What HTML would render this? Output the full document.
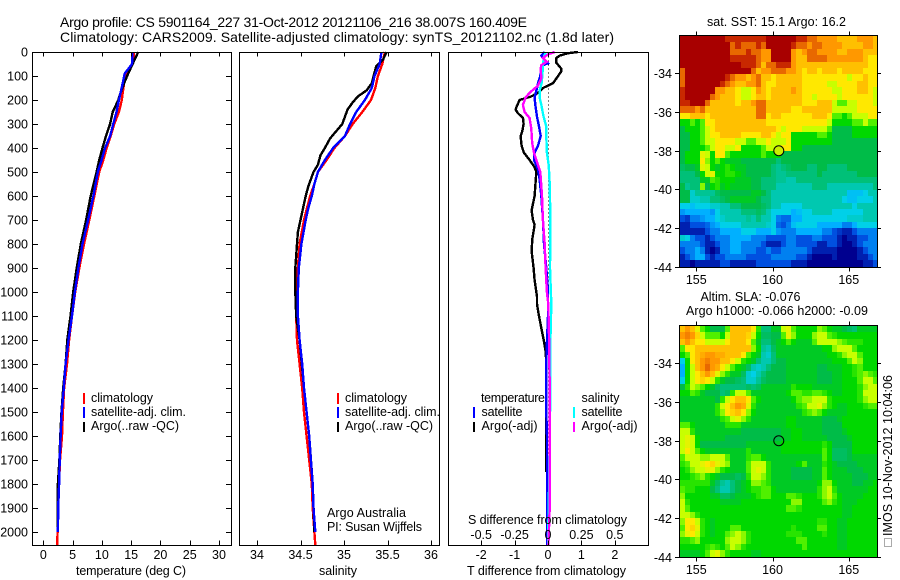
<!DOCTYPE html>
<html>
<head>
<meta charset="utf-8">
<title>Argo profile</title>
<style>
html,body{margin:0;padding:0;background:#fff;width:900px;height:580px;overflow:hidden}
svg{display:block}
text{font-family:"Liberation Sans",sans-serif;font-size:12.5px;fill:#000}
.title{font-size:14px}
.frame{fill:none;stroke:#000;stroke-width:1;shape-rendering:crispEdges}
.tick{stroke:#000;stroke-width:1;shape-rendering:crispEdges}
.series{fill:none;stroke-width:2.4;shape-rendering:crispEdges;stroke-linejoin:miter}
</style>
</head>
<body>
<svg id="chart" width="900" height="580" viewBox="0 0 900 580" xmlns="http://www.w3.org/2000/svg">
<text class="title" x="60" y="27" textLength="467">Argo profile: CS 5901164_227 31-Oct-2012 20121106_216 38.007S 160.409E</text>
<text class="title" x="60" y="42" textLength="554">Climatology: CARS2009. Satellite-adjusted climatology: synTS_20121102.nc (1.8d later)</text>

<g id="map-sst"></g>
<g id="map-sla"></g>
<g id="panel-temp"></g>
<g id="panel-sal"></g>
<g id="panel-diff"></g>

<text x="131" y="575" text-anchor="middle" textLength="110">temperature (deg C)</text>
<text x="338" y="575" text-anchor="middle" textLength="38">salinity</text>
<text x="467" y="575" textLength="159">T difference from climatology</text>
<text x="468" y="524" textLength="159">S difference from climatology</text>

<g>
<rect x="83" y="393" width="2" height="11" fill="#f00"/>
<rect x="83" y="407" width="2" height="11" fill="#00f"/>
<rect x="83" y="422" width="2" height="10" fill="#000"/>
<text x="91" y="402" textLength="62">climatology</text>
<text x="91" y="416" textLength="95">satellite-adj. clim.</text>
<text x="91" y="430" textLength="88">Argo(..raw -QC)</text>
</g>
<g>
<rect x="337" y="393" width="2" height="11" fill="#f00"/>
<rect x="337" y="407" width="2" height="11" fill="#00f"/>
<rect x="337" y="422" width="2" height="10" fill="#000"/>
<text x="345" y="402" textLength="62">climatology</text>
<text x="345" y="416" textLength="95">satellite-adj. clim.</text>
<text x="345" y="430" textLength="88">Argo(..raw -QC)</text>
<text x="327" y="517" textLength="79">Argo Australia</text>
<text x="327" y="531" textLength="95">PI: Susan Wijffels</text>
</g>
<g>
<text x="481" y="402" textLength="64">temperature</text>
<rect x="473" y="407" width="2" height="11" fill="#00f"/>
<rect x="473" y="422" width="2" height="10" fill="#000"/>
<text x="481.5" y="416" textLength="41">satellite</text>
<text x="481.5" y="430" textLength="56">Argo(-adj)</text>
<text x="581.5" y="402" textLength="38">salinity</text>
<rect x="573" y="407" width="2" height="11" fill="#0ff"/>
<rect x="573" y="422" width="2" height="10" fill="#f0f"/>
<text x="581.5" y="416" textLength="41">satellite</text>
<text x="581.5" y="430" textLength="56">Argo(-adj)</text>
</g>

<text x="776.5" y="26" text-anchor="middle" textLength="139">sat. SST: 15.1 Argo: 16.2</text>
<text x="750.5" y="301" text-anchor="middle" textLength="100">Altim. SLA: -0.076</text>
<text x="777" y="315" text-anchor="middle" textLength="182">Argo h1000: -0.066 h2000: -0.09</text>

<rect x="884.5" y="538.5" width="7" height="8" fill="none" stroke="#555" stroke-width="1" stroke-dasharray="1 1"/>
<text transform="translate(892 536) rotate(-90)" x="0" y="0" textLength="161">IMOS 10-Nov-2012 10:04:06</text>
</svg>

<script>
// ---------- profile data ----------
var tempDepths = [0,50,90,130,170,200,250,300,350,400,450,500,600,700,800,900,1000,1100,1200,1300,1400,1500,1600,1700,1800,1900,2000,2055];
var tempClim = [15.5,15.25,14.2,13.8,13.55,13.4,12.9,12.1,11.5,10.8,10.25,9.55,8.7,7.85,6.95,6.15,5.45,4.9,4.4,4.05,3.55,3.35,3.2,2.85,2.7,2.55,2.45,2.35];
var tempSat = [15.25,15.15,13.9,13.55,13.2,12.9,12.5,11.95,11.4,10.55,9.95,9.3,8.55,7.65,6.7,6.0,5.4,4.9,4.3,3.8,3.5,3.15,2.95,2.8,2.7,2.55,2.5];
var tempArgo = [16.2,15.25,14.5,13.8,13.2,12.8,11.85,11.4,10.7,10.1,9.55,9.1,8.1,7.3,6.4,5.7,5.1,4.65,4.1,3.8,3.4,3.1,2.9,2.75,2.5,2.45,2.45];

var salClimDepths = [0,50,100,150,200,250,300,350,400,450,500,550,600,700,800,900,1000,1100,1200,1300,1400,1500,1600,1700,1800,1900,2000,2055];
var salClim = [35.47,35.44,35.39,35.36,35.31,35.21,35.1,35.01,34.89,34.8,34.7,34.66,34.61,34.54,34.49,34.47,34.46,34.45,34.46,34.49,34.52,34.54,34.57,34.6,34.63,34.64,34.66,34.67];
var salSatDepths = [0,50,100,150,200,250,300,350,400,450,500,550,600,650,700,800,900,1000,1100,1200,1300,1400,1500,1600,1700,1800,1900,2000];
var salSat = [35.43,35.41,35.35,35.32,35.24,35.14,35.07,35.01,34.875,34.78,34.7,34.66,34.63,34.59,34.56,34.51,34.48,34.47,34.47,34.49,34.52,34.54,34.57,34.6,34.62,34.64,34.65,34.67];
var salArgoDepths = [0,30,60,100,130,160,185,210,240,270,300,330,360,400,430,470,500,560,600,650,700,750,800,850,900,1000,1100,1200,1400,1600,1800,2000];
var salArgo = [35.49,35.45,35.37,35.34,35.32,35.26,35.16,35.1,35.04,35.01,34.98,34.91,34.84,34.78,34.73,34.7,34.65,34.59,34.56,34.53,34.5,34.47,34.46,34.45,34.44,34.44,34.45,34.49,34.54,34.6,34.64,34.66];

var diffTArgoDepths = [0,5,15,25,45,70,80,110,130,150,170,185,200,225,240,255,275,300,330,350,390,420,450,480,500,600,660,700,720,780,830,900,950,1020,1050,1100,1150,1200,1250,1300,1500,1750];
var diffTArgo = [0.9,0.6,0.35,0.25,0.25,0.4,0.4,0.25,0.15,-0.15,-0.3,-0.5,-0.85,-0.93,-0.97,-0.9,-0.75,-0.73,-0.77,-0.82,-0.79,-0.72,-0.55,-0.4,-0.35,-0.4,-0.49,-0.45,-0.4,-0.47,-0.49,-0.43,-0.4,-0.33,-0.33,-0.27,-0.2,-0.13,-0.07,-0.05,-0.05,-0.05];
var diffTSatDepths = [0,15,47,55,80,110,130,150,190,220,270,310,350,390,420,450,490,530,600,700,800,900,1000,1100,1200,1300,1400,1500,1600,1700,2055];
var diffTSat = [-0.1,-0.2,0,-0.15,-0.2,-0.25,-0.3,-0.33,-0.4,-0.38,-0.33,-0.27,-0.22,-0.3,-0.4,-0.42,-0.3,-0.25,-0.2,-0.15,-0.12,-0.05,0,0,-0.03,-0.05,-0.05,-0.05,-0.03,-0.03,-0.03];
var diffSSatDepths = [0,30,60,100,130,160,190,220,270,310,350,420,470,550,700,900,1050,1200,1400,1600,1800,2055];
var diffSSat = [-0.018,-0.033,-0.038,-0.043,-0.048,-0.063,-0.063,-0.05,-0.033,-0.013,-0.013,-0.008,0.005,0.013,0.018,0.015,0.025,0.018,0.018,0.013,0.008,0];
var diffSArgoDepths = [0,10,25,40,55,70,110,140,170,190,220,250,275,320,380,420,470,500,600,700,800,900,1000,1050,1200,1400,1700,1900,2055];
var diffSArgo = [0.05,0,-0.038,-0.008,-0.05,-0.055,-0.05,-0.075,-0.138,-0.168,-0.188,-0.175,-0.138,-0.125,-0.118,-0.105,-0.075,-0.058,-0.045,-0.038,-0.025,-0.018,-0.008,0.002,0.008,0.013,0.013,0.013,0.003];

// ---------- axis tick data ----------
var depthTicks = [0,100,200,300,400,500,600,700,800,900,1000,1100,1200,1300,1400,1500,1600,1700,1800,1900,2000];
var tempTicks = [0,5,10,15,20,25,30];
var salTicks = [34,34.5,35,35.5,36];
var diffTTicks = [-2,-1,0,1,2];
var diffSTicks = [-0.5,-0.25,0,0.25,0.5];
var lonTicks = [155,160,165];
var latTicks = [-34,-36,-38,-40,-42,-44];
var floatLon = 160.409;
var floatLat = -38.007;

// ---------- map grids (colour-scale value per 1/3 degree cell, north to south) ----------
var sstGrid = [
[17,17,17,17,17,17,17,17,17,16,16,16,16,16,16,16,16,17,17,17,17,17,17,16,16,15,15,14,14,14,14,13,13,13,13,14,14,14,13],
[17,17,17,17,17,17,17,17,17,17,15,16,15,15,15,16,15,17,17,17,17,17,16,15,15,14,15,15,14,14,14,14,13,13,13,13,14,14,13],
[17,17,17,17,17,17,17,17,17,17,15,15,15,16,15,15,14,14,17,17,17,17,14,13,14,15,15,14,14,14,14,13,13,14,14,14,13,13,13],
[17,17,17,17,17,17,17,17,17,17,16,16,16,16,16,15,14,14,17,17,17,17,14,13,13,15,15,15,15,14,14,14,14,14,14,14,13,12,12],
[17,17,17,17,17,17,17,17,17,17,17,17,16,16,16,15,13,15,15,16,16,16,14,13,13,13,13,13,13,13,13,13,13,13,13,13,13,12,12],
[15,17,17,17,17,17,17,17,17,17,17,17,17,17,15,13,14,14,15,15,15,14,14,13,12,13,13,12,13,13,13,12,13,13,13,13,12,12,12],
[15,17,17,17,17,17,17,17,17,16,15,14,14,13,14,15,13,13,12,13,13,13,13,13,12,12,12,12,12,12,12,12,12,11,12,12,13,12,12],
[15,17,17,17,17,17,17,17,16,15,14,13,13,14,14,15,13,12,12,13,13,13,13,13,12,12,12,12,12,11,11,12,12,12,12,13,13,12,12],
[16,17,17,17,17,17,17,14,14,13,13,12,11,11,12,14,13,12,13,13,13,13,14,13,12,12,12,12,12,12,11,11,12,12,12,13,13,12,11],
[16,17,17,17,17,17,15,14,13,13,13,12,11,11,12,13,13,12,13,13,13,13,13,13,12,12,11,12,12,12,12,11,12,12,12,12,12,12,11],
[16,16,17,17,17,15,13,13,13,13,13,12,13,13,14,15,15,13,13,13,13,13,13,13,12,12,12,13,13,13,11,10,10,11,11,12,12,12,11],
[15,15,15,14,15,13,13,13,13,13,13,13,13,13,13,15,15,13,13,13,13,13,12,12,13,13,13,13,13,13,11,11,11,11,11,12,12,12,12],
[12,12,13,13,13,12,13,13,13,13,13,13,13,13,13,15,15,12,13,13,12,12,12,12,12,12,13,13,13,12,10,10,9,10,11,11,11,12,12],
[9,9,10,9,10,12,12,13,13,13,13,13,13,13,13,13,13,12,12,12,12,12,12,12,12,12,12,12,12,11,9,9,9,9,10,10,11,10,10],
[8,9,9,9,10,11,12,13,13,13,13,13,13,13,13,13,13,13,13,12,11,12,12,12,11,11,11,11,11,10,8,8,8,8,9,9,9,9,9],
[8,8,9,9,10,11,12,12,13,13,13,13,12,12,12,12,13,13,12,11,12,12,9,9,9,9,9,10,10,9,8,8,8,8,9,9,9,9,9],
[8,8,9,9,10,11,11,12,12,12,12,11,11,10,10,11,11,12,11,11,11,12,9,9,9,9,9,9,9,9,8,8,8,8,8,8,8,8,8],
[8,8,9,9,9,10,11,12,12,11,11,12,9,9,9,9,10,11,11,11,12,12,9,9,8,8,8,8,8,8,8,8,8,8,8,8,8,8,8],
[8,9,9,9,11.5,11,9,12,12,10,9,9,9,9,9,9,10,9,9,9,8,8,8,8,8,8,8,8,8,8,8,8,8,8,8,8,8,8,8],
[8,9,9,9,12,10.5,9,10,9,8.5,8.5,8.5,8,8,8,8,8,8,8,7,8,8,8,8,8,8,8,8,8,8,8,8,8,8,8,8,8,8,8],
[7.5,8,8,8.5,11.5,11,9,8.5,9,9.5,9,8.5,8.5,8,8,8,8,8,7,6.5,7,7.5,8,8,8,7,7,8,8,7,7,7,7,8,8,8,8,8,8],
[7,7,7,8,9,11,11.5,9,9,9.5,9.5,9,8.5,8,8,8,8,8,7,6.5,6.5,7,7,7,7,7,7,8,7,7,7,7,7,7,7,8,8,8,8],
[7,7,7,7,8.5,8.5,10,9.5,9,9,9,8.5,8.5,8.5,8,8,7,7,7,6.5,6.5,6,6,7,7,7,7,7,7,7,7,7,7,7,7,7,7,7,7],
[8,6.5,7,7,10.5,8,9,9.5,8.5,9,8.5,8.5,8.5,8.5,8,8,7,7,7,6,6,6,6,6,6,6,7,7,7,6,6,6,6,6,6,6,6,6,7],
[8,8,5.5,6.5,6.5,6.5,6.5,7.5,8,8,8,8,8,8,8.5,8.5,8,7,6,6,6,6,6,6,6,6,6,6,6,6,6,6,6,4.5,4.5,4.5,5,6,6],
[8,8,5.5,5.5,6,6,7,7,7.5,8,8.5,8.5,8.5,8.5,8.5,8,7,7,6,6,6,6,6,6,6,6,6,6,6,6,6,6,5,4.5,4.5,5,5,5,6],
[5,5,4.5,5,5,5,5.5,5.5,6,6,7,7,8,8,8,8,7.5,7,6,6,5,5,5,5,6,6,6,6,6,6,6,6,6,6,5,6,6,6,6],
[3.5,4,4,4,4,4,3.5,5,6,6,6,6,7,7,7,7.5,7,6,5,5,5,5,4,4.5,5,5,6,6,6,6,5,5,5,5,5,5,6,6,6],
[2,1.5,3,3,3.5,4,4,5,5.5,6,6,6,6,6.5,6,7,6,6,5,3,2.5,2.5,4,4,5,5,5,5,5,5,5,5,5,5.5,5.5,5.5,6,6,6],
[1,1,2,2,2,2.5,3.5,4,5,5,5,5,6,6,6,6,6,5.5,5,2.5,2,3,4.5,5,5,5,5,4,4,4,4,4,3,3,4,5,5,5,5],
[1,1,1,1,1,2,3,3,4,4,4,4,5,5,5,4,4,4,5,3.5,3,3,3,4,4,4,4,4,3,3,2,1.5,1,1,2,3,3,3,3],
[5.5,5,3,2,2,1,2,3,3,3,4,4,4,4,3,3,3,2,2,2,2,3,3,2,2,2,3,3,2,2,2,1,0,1,1,2,2,3,3],
[3,3,3,3,2,1,1,2,3,3,4,4,3,3,3,3,2,1,1,1,2,3,3,2,2,2,2,1,1,2,2,1,0,0,1,2,3,3,3],
[2,3,3,4,3,1,0,1,3,3,4,4,3,3,3,2,2,3,2,2,3,3,3,3,3,2,1,1,1,1,1,0,0,0,0,1,2,3,3],
[1,2,3,4,4,2,1,2,2,3,3,3,3,2,2,2,2,2,3,3,3,3,3,2,2,1,0,0,0,0,1,0,0,0,0,1,1,2,3],
[1,1,0,1,1,1,1,1,2,2,1,1,1,1,1,2,2,2,2,2,2,2,1,1,1,0,0,0,0,0,0,0,0,0,0,0,1,1,2]
];
var slaGrid = [
[13,14,13,11.5,10,9,8,8,8,10,13,13,13,13,12,9.5,7,7,8.5,8.5,11,11.5,10,9,9,9,9,10.5,10,9,8.5,8.5,8,7.5,7,8.5,8.5,8.5,8.5],
[14,14.5,14,12.5,11,10,10,10,9,11,13,13,13,12.5,11,9,7.5,7.5,8,8,10,11.5,10.5,9,9,9,10.5,11,11,10,9.5,9,9,9,9,9,9,9,9],
[13,14,13,12,12,11,11,11,11,12,13,13,13,12,10,8.5,7,7,8,8.5,9,10,9,8.5,8.5,8.5,10,11,11,11,11,10.5,10,9.5,9.5,9.5,9,9,9],
[10,12,12,13,13,13,13,13,13,13,13,13,13,13,10.5,9,6.5,6,7.5,8.5,8.5,8.5,8.5,8.5,8.5,8.5,8.5,8.5,9,9,10.5,11,11,11,10,9,9,9,9],
[9,10,12,13,13.5,14,14,13.5,13.5,13,13,13,12,10,9,8.5,6,5.5,7,8.5,8.5,8.5,8.5,8.5,8.5,8.5,8.5,8.5,8.5,9,9,9.5,10.5,11,11,10,9,9,9],
[5,9,12,13,14,14.5,14,14,13,13,12,11,9.5,9,8.5,7,6,6,7,8,8,8.5,8.5,8.5,8.5,8.5,8.5,8.5,8.5,8.5,9,9,9,10,11,10.5,9,9,9],
[4,9,11,13,14,15,14,13.5,12,11,10,9,8.5,7.5,6,5.5,6,7,8,8,8,8.5,8.5,8.5,8.5,8.5,8.5,8,8,8.5,8.5,8.5,9,9,9.5,10,9,9,9],
[4,9,11,12,13,14,13,11.5,10.5,9.5,8.5,8.5,7.5,5.5,5,6,7,8,8,8,8,8.5,8.5,8.5,8.5,8.5,8.5,8,8,8,8.5,8.5,9,9,9.5,10,10.5,10,9.5],
[5,9,11,12,12.5,12,11,9.5,8.5,8,8,7.5,7,5.5,5.5,6.5,7.5,8,8,8,8,8.5,8.5,8.5,8.5,8.5,8.5,8,8,8,8.5,8.5,9,9,9,10,11,11,10],
[8,9.5,11,10.5,10,9,8.5,7.5,7,7,7,7,7,7.5,7,7.5,8.5,8.5,8.5,8.5,8.5,8.5,9.5,9,9,9,8.5,8.5,8.5,8.5,8.5,8.5,9,9,9,9.5,10.5,11,11],
[9,9,10,9.5,8.5,8,8,8,7,7.5,9.5,11,11,10,8.5,8.5,8.5,8.5,8.5,8.5,8.5,9,10,10,9.5,9.5,10,10,9.5,9,8.5,8.5,9,9,9,9.5,11,11,11],
[8.5,8.5,8.5,8.5,8.5,8.5,8.5,8,9.5,11,12,13,13,12,10,9,8.5,8.5,8.5,8.5,8.5,8.5,9,10,10.5,10.5,11,11,11,9.5,9,9,9,9,9,9.5,10.5,11,11],
[8.5,8.5,8.5,8.5,8.5,8.5,8.5,9.5,11,12,13,14,13.5,11.5,9.5,8.5,8.5,8.5,8.5,8.5,8.5,8.5,8.5,9.5,10,11,11,11.5,10.5,9.5,9,8.5,8.5,9,9,9,9.5,10,10],
[8.5,8.5,8.5,8.5,8.5,8.5,8.5,9.5,10.5,12,12.5,13,12,10.5,9,8.5,8.5,8.5,8.5,8.5,8.5,8.5,8.5,8.5,9.5,10,10.5,10,9,8.5,8.5,8.5,8.5,9,9,9,9,9,9],
[8.5,8.5,8.5,8.5,8.5,8.5,8.5,8.5,9.5,10,11,11.5,10.5,9.5,8.5,8.5,8.5,8.5,8.5,8.5,8.5,9,9,8.5,8.5,8.5,8.5,8.5,8,8,8,8.5,9,9,9,9,9,9,9],
[10,10,9,8.5,8.5,8.5,8.5,8.5,8.5,9.5,9.5,9.5,8.5,8.5,8.5,8.5,8.5,8.5,8.5,8.5,8.5,9,9,8.5,8.5,8.5,8.5,8.5,8,8,8,8,9,9,9,9,9,9,9],
[11,11,9.5,8.5,8.5,8.5,8.5,8.5,8.5,8.5,8.5,8.5,8,8,8,8,8,8,8,8,8.5,8.5,9,9,8.5,8.5,8.5,8.5,8,8,8,8,8.5,9,9,9,9,9,9],
[11,11.5,11,9,8.5,8.5,8.5,8.5,8.5,8,8,8,8,8,8,8,8,8,8,8,8.5,8.5,9,9,8.5,8.5,8.5,8.5,8.5,8,8,8,8,8.5,9,9,9,9,9],
[11,11.5,11,9,8,8,8,8,8,8,8,8,8,8.5,8.5,8.5,8.5,8.5,8.5,8.5,9,9,9,9,9,9,9,9,9.5,9,8,8,8,8,9,9,9,9,9],
[11,12,11,10,9,8.5,8.5,8.5,8.5,8.5,8.5,8.5,8.5,9.5,8.5,8.5,8.5,8.5,8.5,8.5,9,9,9,9,9,9,9,9,10,9,7.5,7.5,7.5,8,9,9,9,9,9],
[10,11,11,11,10.5,10.5,11,11,11,10,8.5,8.5,8.5,9.5,10,10,9,8.5,8.5,8.5,8.5,8.5,8.5,8.5,8.5,8.5,8.5,8.5,10,9,7.5,7.5,7.5,8,8.5,8.5,8.5,8.5,8.5],
[9.5,10,11,11,11.5,12,12.5,11.5,11,10.5,8.5,8.5,8.5,10,11,11,11,9.5,8.5,8.5,8.5,8.5,8.5,9,10,8.5,8.5,8.5,9.5,9,8.5,8,8,8,8,8.5,8.5,8.5,8.5],
[9,9.5,10.5,11,11,11.5,11.5,10.5,9.5,9,8.5,8.5,8.5,10,11,11.5,11,9.5,8.5,8.5,8.5,8.5,8,8,8,8,8.5,8.5,10,9,8.5,8.5,8.5,8,8,8,8.5,8.5,8.5],
[9,9,9.5,10,10.5,9.5,9,8.5,8,8,8,7.5,8,9.5,11,11,10.5,9.5,8.5,8.5,8.5,8.5,8,8,8,8,8.5,8.5,10,9,8.5,8.5,8.5,8.5,8,8,8,8.5,8.5],
[9.5,9.5,9.5,9.5,9.5,9.5,8.5,7.5,6.5,6,7,8,8.5,9,10.5,10.5,10,9.5,8.5,8.5,8.5,8.5,8.5,8.5,8.5,8.5,8.5,9,10.5,10.5,9,8.5,8.5,8.5,8,8,8.5,8.5,9],
[10,9.5,9.5,9,9,9,8,7,6,6,7,8,8.5,9,9.5,9.5,10,10,9,8.5,8.5,8.5,8.5,8.5,8.5,8.5,8.5,9.5,10.5,11,9.5,8.5,8.5,8.5,8.5,8.5,8.5,9,9],
[10.5,9,9,9,9,9,8.5,8.5,7.5,7.5,8,8.5,8.5,8.5,9,9.5,10,10,9,9,9,10,10,9.5,9,9,9,9.5,10.5,11,10,9,8.5,8.5,8.5,8.5,9,9,9],
[11,9.5,9,9,9,9,9,9,8.5,8.5,8.5,8.5,9,9,9,9,9,9,9,9,9,9,10.5,10.5,9,9,9,9,10,10.5,9.5,9,8.5,8.5,8.5,9,9,9,9],
[11,10,9,9,9,9,9,9,9,9,9,9,9,9,9,9,9,9,9,9,9,10,10,9.5,9,9,9,9,9,9,9,9,8.5,8.5,9,9,9,9,9],
[11,11,10.5,9.5,9,9,9,9,9,9,9,9,9,9,9,9,9,9,9,9,9,9,9,9,9,9,9,9,9,9,9,9,8.5,8.5,9,9,9,9,9],
[10.5,12,12,11,9.5,9,8.5,9,9,9,9,9,9,9,9,9,9,9,9,9,9,9,9,9,9,9,9,9.5,9.5,9,9,8.5,8.5,9,9,9,9,9,9],
[10,12,12.5,11.5,9.5,9,8.5,9,9,9,10,10,9,9,9,9,9,9,9,9,9,9,9.5,9,9,9,9,10,10,9,9,8.5,8.5,9,9,9,9,9,9],
[10.5,11.5,12,11,9.5,9,8.5,9,9,10,10.5,11,10.5,9.5,9,9,9,9,9,9,9,9.5,9.5,9.5,9,9,9,9,9.5,9,9,8.5,8.5,9,9,9,9,9,9],
[9.5,9.5,10,10.5,9,9,9,9,9,10.5,11,11,10.5,9.5,9,9,9,9,9,9,9,9,9,10,10,9,9,9,9,9,9,8.5,8.5,9,9,9,9,9,9],
[9,9,9,9,9,9.5,10,9.5,9,10,11,10.5,9.5,9,9,9,9,9,9,9,9,9,9,9,10,9,9,9,9,9,9,8.5,8.5,9,9,9,9,9,9],
[8.5,8.5,8.5,8.5,9,10,11,11.5,10.5,9.5,9,9,9,9,8.5,8.5,9,9,9,9,9,9,9,9,9,9,9,9,9,9,9,9,9,9,9,9,9,9,9]
];

var colourStops = [[0,0,143],[0,32,176],[0,80,224],[0,128,240],[0,176,255],[0,208,232],[0,200,176],[0,192,120],[0,188,72],[0,216,0],[80,240,0],[200,255,0],[255,232,0],[255,192,0],[255,152,0],[232,104,0],[200,40,0],[168,0,0]];

// ---------- axis functions ----------
var NS = 'http://www.w3.org/2000/svg';
function depthY(d){ return 52 + 0.24 * d; }
function tempX(v){ return 43.3 + 5.857 * v; }
function salX(v){ return 257 + 87 * (v - 34); }
function diffTX(v){ return 548 + 33.4 * v; }
function diffSX(v){ return 548 + 133.6 * v; }
function lonX(v){ return 696.3 + 15.25 * (v - 155); }
function latY(v, top){ return top + 37.3 + 19.33 * (-34 - v); }
function colourFor(v){
  var a = Math.max(0, Math.min(colourStops.length - 1, Math.floor(v)));
  var b = Math.min(colourStops.length - 1, a + 1);
  var f = Math.max(0, Math.min(1, v - a));
  var c = [0,1,2].map(function(i){ return Math.round(colourStops[a][i] + (colourStops[b][i] - colourStops[a][i]) * f); });
  return 'rgb(' + c.join(',') + ')';
}

function make(tag, parent, name, attrs){
  var el = document.createElementNS(NS, tag);
  
  
  for (var k in attrs) el.setAttribute(k, attrs[k]);
  parent.appendChild(el);
  return el;
}
function label(parent, name, str, x, y, anchor){
  var t = make('text', parent, name, {x:x, y:y, 'text-anchor':anchor});
  t.textContent = str;
  return t;
}
function tickLine(parent, name, x1, y1, x2, y2){
  make('line', parent, name, {x1:x1, y1:y1, x2:x2, y2:y2, 'class':'tick'});
}
function series(parent, name, xs, depths, xFn, colour){
  var pts = [];
  for (var i = 0; i < xs.length; i++) pts.push(xFn(xs[i]).toFixed(1) + ',' + depthY(depths[i]).toFixed(1));
  make('polyline', parent, name, {points:pts.join(' '), 'class':'series', stroke:colour});
}
function frame(parent, name, x, y, w, h){
  make('rect', parent, name, {x:x, y:y, width:w, height:h, 'class':'frame'});
}

var top0 = 52.5, bot0 = 545.5;

// temperature panel
var pT = document.getElementById('panel-temp');
series(pT, 'temperature-climatology-line', tempClim, tempDepths, tempX, '#f00');
series(pT, 'temperature-argo-line', tempArgo, tempDepths, tempX, '#000');
series(pT, 'temperature-satellite-line', tempSat, tempDepths, tempX, '#00f');
frame(pT, 'temperature-frame', 32.5, top0, 199, bot0 - top0);
depthTicks.forEach(function(d){
  var y = Math.round(depthY(d)) + 0.5;
  tickLine(pT, 'depth-tick-left', 33, y, 38, y);
  tickLine(pT, 'depth-tick-right', 226, y, 231, y);
  label(pT, 'depth-label', String(d), 28, y + 4, 'end');
});
tempTicks.forEach(function(v){
  var x = Math.round(tempX(v)) + 0.5;
  tickLine(pT, 'temperature-tick-top', x, top0, x, top0 + 4);
  tickLine(pT, 'temperature-tick-bottom', x, bot0 - 5, x, bot0);
  label(pT, 'temperature-tick-label', String(v), tempX(v), 559, 'middle');
});

// salinity panel
var pS = document.getElementById('panel-sal');
series(pS, 'salinity-climatology-line', salClim, salClimDepths, salX, '#f00');
series(pS, 'salinity-argo-line', salArgo, salArgoDepths, salX, '#000');
series(pS, 'salinity-satellite-line', salSat, salSatDepths, salX, '#00f');
frame(pS, 'salinity-frame', 239.5, top0, 200, bot0 - top0);
salTicks.forEach(function(v){
  var x = Math.round(salX(v)) + 0.5;
  tickLine(pS, 'salinity-tick-top', x, top0, x, top0 + 4);
  tickLine(pS, 'salinity-tick-bottom', x, bot0 - 5, x, bot0);
  label(pS, 'salinity-tick-label', String(v), salX(v), 559, 'middle');
});

// difference panel
var pD = document.getElementById('panel-diff');
make('line', pD, 'zero-line', {x1:548.5, y1:top0, x2:548.5, y2:bot0, stroke:'#000', 'stroke-width':1, 'stroke-dasharray':'1 3', 'shape-rendering':'crispEdges'});
series(pD, 'diff-t-argo-line', diffTArgo, diffTArgoDepths, diffTX, '#000');
series(pD, 'diff-t-satellite-line', diffTSat, diffTSatDepths, diffTX, '#00f');
series(pD, 'diff-s-satellite-line', diffSSat, diffSSatDepths, diffSX, '#0ff');
series(pD, 'diff-s-argo-line', diffSArgo, diffSArgoDepths, diffSX, '#f0f');
frame(pD, 'difference-frame', 448.5, top0, 200, bot0 - top0);
diffTTicks.forEach(function(v){
  var x = Math.round(diffTX(v)) + 0.5;
  tickLine(pD, 't-diff-tick-top', x, top0, x, top0 + 4);
  tickLine(pD, 't-diff-tick-bottom', x, bot0 - 5, x, bot0);
  label(pD, 't-diff-tick-label', String(v), diffTX(v), 559, 'middle');
});
diffSTicks.forEach(function(v){
  label(pD, 's-diff-tick-label', String(v), diffSX(v), 539, 'middle');
});

// maps
function drawMap(groupId, prefix, grid, top, filled){
  var g = document.getElementById(groupId);
  for (var r = 0; r < grid.length; r++){
    for (var c = 0; c < grid[r].length; c++){
      var lonA = 153.9 + c / 3, lonB = 153.9 + (c + 1) / 3;
      var latA = -32.07 - r * 11.93 / 36, latB = -32.07 - (r + 1) * 11.93 / 36;
      var x0 = Math.round(lonX(lonA)), x1 = Math.round(lonX(lonB));
      var y0 = Math.round(latY(latA, top)), y1 = Math.round(latY(latB, top));
      make('rect', g, prefix + '-cell', {x:x0, y:y0, width:x1 - x0, height:y1 - y0, fill:colourFor(grid[r][c]), 'shape-rendering':'crispEdges'});
    }
  }
  var yT = Math.round(latY(-32.07, top)) - 0.5;
  var yB = Math.round(latY(-44, top)) + 0.5;
  frame(g, prefix + '-frame', 679.5, yT, 198, yB - yT);
  lonTicks.forEach(function(v){
    var x = Math.round(lonX(v)) + 0.5;
    tickLine(g, prefix + '-lon-tick-top', x, yT - 4, x, yT);
    tickLine(g, prefix + '-lon-tick-bottom', x, yB, x, yB + 4);
    label(g, prefix + '-lon-label', String(v), lonX(v), yB + 16.5, 'middle');
  });
  latTicks.forEach(function(v){
    var y = Math.round(latY(v, top)) + 0.5;
    tickLine(g, prefix + '-lat-tick-left', 675, y, 679.5, y);
    tickLine(g, prefix + '-lat-tick-right', 877.5, y, 881, y);
    label(g, prefix + '-lat-label', String(v), 672, y + 4.5, 'end');
  });
  make('circle', g, prefix + '-float-marker', {cx:lonX(floatLon), cy:latY(floatLat, top), r:5, fill:filled, stroke:'#000', 'stroke-width':1});
}
drawMap('map-sst', 'sst', sstGrid, 36, '#c8f000');
drawMap('map-sla', 'sla', slaGrid, 326, 'none');
</script>
</body>
</html>
